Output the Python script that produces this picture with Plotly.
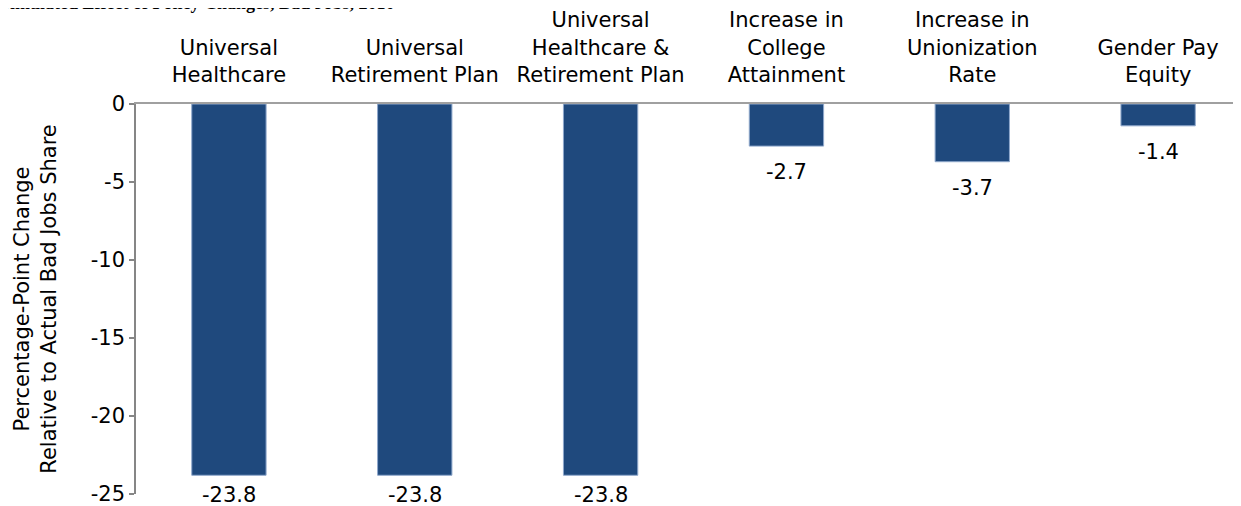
import plotly.graph_objects as go

categories = [
    "Universal<br>Healthcare",
    "Universal<br>Retirement Plan",
    "Universal<br>Healthcare &<br>Retirement Plan",
    "Increase in<br>College<br>Attainment",
    "Increase in<br>Unionization<br>Rate",
    "Gender Pay<br>Equity",
]
values = [-23.8, -23.8, -23.8, -2.7, -3.7, -1.4]
labels = ["-23.8", "-23.8", "-23.8", "-2.7", "-3.7", "-1.4"]
y_ticks = [0, -5, -10, -15, -20, -25]
title_text = "Simulated Effect of Policy Changes, Bad Jobs, 2010"
y_title = "Percentage-Point Change<br>Relative to Actual Bad Jobs Share"

# page has an 8px body margin; figure placed so plot area sits at x 136..1241, y 101..496
W, H = 1233, 498
ml, mr, mt, mb = 128, 0, 93, 10
plot_w = W - ml - mr
plot_h = H - mt - mb
y_min, y_max = -25, 0
px_per_unit = plot_h / (y_max - y_min)

fig = go.Figure()
fig.add_trace(go.Bar(
    x=categories,
    y=values,
    width=0.4,
    marker=dict(color="#1F497D", line=dict(color="#8FA8CC", width=1)),
    hoverinfo="x+y",
))

# value labels below each bar (pushed up a little where they'd overflow the bottom)
for cat, v, lab in zip(categories, values, labels):
    bar_end_from_plot_top = (y_max - v) * px_per_unit
    room = plot_h + 1 - bar_end_from_plot_top
    shift = min(26, room)
    fig.add_annotation(
        x=cat, y=v, xref="x", yref="y",
        text=lab, showarrow=False,
        yanchor="middle", yshift=-shift,
        font=dict(family="DejaVu Sans", size=21, color="black"),
    )

fig.add_annotation(
    text="<b>" + title_text + "</b>",
    xref="paper", yref="paper",
    x=-(ml + 10) / plot_w, xanchor="left",
    y=1 + (mt + 9) / plot_h, yanchor="middle",
    showarrow=False,
    font=dict(family="Liberation Serif", size=18, color="black"),
)

fig.update_layout(
    width=W, height=H,
    margin=dict(l=ml, r=mr, t=mt, b=mb),
    paper_bgcolor="white",
    plot_bgcolor="white",
    showlegend=False,
    font=dict(family="DejaVu Sans", size=21, color="black"),
    xaxis=dict(
        side="top",
        range=[-0.5, 5.446],
        showline=True, linecolor="#A0A0A0", linewidth=1.5,
        ticks="", showgrid=False, zeroline=False,
        ticklabelstandoff=12,
        tickfont=dict(size=21, family="DejaVu Sans"),
    ),
    yaxis=dict(
        range=[y_min, y_max],
        tickvals=y_ticks,
        ticktext=[str(v) for v in y_ticks],
        ticks="outside", ticklen=5, tickcolor="#868686", tickwidth=1.5,
        showline=True, linecolor="#868686", linewidth=1.5,
        showgrid=False, zeroline=False,
        ticklabeloverflow="allow",
        tickfont=dict(size=21, family="DejaVu Sans"),
        title=dict(text=y_title, font=dict(size=21, family="DejaVu Sans"), standoff=28),
    ),
)

fig.write_html("out.html")
